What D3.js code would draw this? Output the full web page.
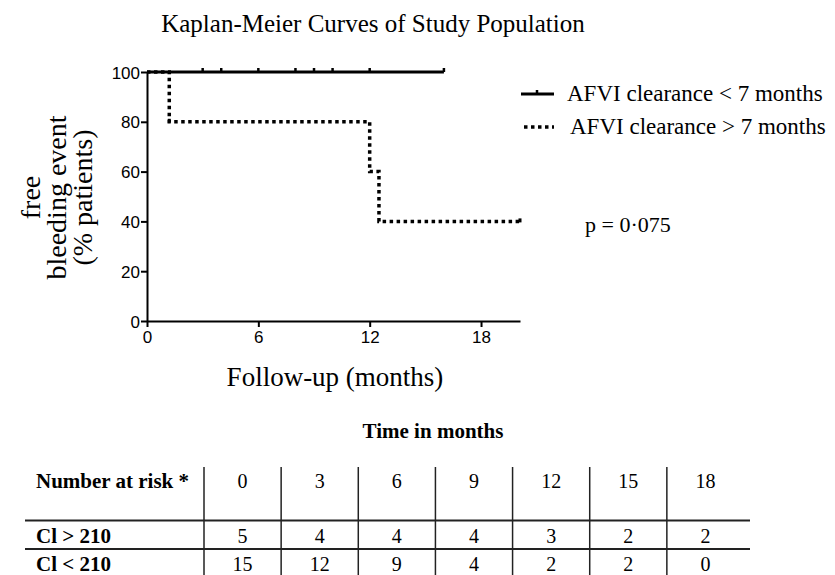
<!DOCTYPE html>
<html>
<head>
<meta charset="utf-8">
<script src="https://cdn.jsdelivr.net/npm/d3@7"></script>
<style>
  body { margin: 0; background: #fff; }
  .serif { font-family: "Liberation Serif", "Times New Roman", serif; }
</style>
</head>
<body>
<svg id="chart" width="835" height="575"></svg>
<script>
// curve data (months, % free of bleeding)
const xTicks = [0, 6, 12, 18];
const yTicks = [0, 20, 40, 60, 80, 100];
const groups = ['AFVI clearance < 7 months', 'AFVI clearance > 7 months'];
const fastTimes = [0, 16];
const fastSurv = [100, 100];
const fastCensor = [3, 4, 6, 8, 9, 10, 12, 16];
const slowTimes = [0, 1.2, 12, 12.5, 20.1];
const slowSurv = [100, 80, 60, 40, 40];
const slowCensor = [1.2, 20.1];
const pLabel = 'p = 0\u00b7075';

// number-at-risk table
const riskTimes = [0, 3, 6, 9, 12, 15, 18];
const riskRows = ['Cl > 210', 'Cl < 210'];
const riskHigh = [5, 4, 4, 4, 3, 2, 2];
const riskLow = [15, 12, 9, 4, 2, 2, 0];

const svg = d3.select('#chart');

const x = d3.scaleLinear().domain([0, 20.1]).range([147, 520]);
const y = d3.scaleLinear().domain([0, 100]).range([321, 72]);

// title
svg.append('text').attr('class', 'serif')
    .attr('x', 373).attr('y', 32)
    .attr('text-anchor', 'middle')
    .style('font-size', '25px')
    .text('Kaplan-Meier Curves of Study Population');

// axes
let xAxis = svg.append('g')
    .attr('transform', `translate(0,${y(0)})`)
    .call(d3.axisBottom(x).tickValues(xTicks).tickSize(6).tickPadding(4).tickSizeOuter(0));
let yAxis = svg.append('g')
    .attr('transform', `translate(${x(0)},0)`)
    .call(d3.axisLeft(y).tickValues(yTicks).tickSize(6).tickPadding(1).tickSizeOuter(0));
[xAxis, yAxis].forEach(function(a) {
  a.attr('font-family', '"Liberation Sans", Arial, sans-serif').attr('font-size', 17);
  a.select('.domain').attr('stroke', '#000').attr('stroke-width', 2);
  a.selectAll('.tick line').attr('stroke', '#000').attr('stroke-width', 2);
  a.selectAll('.tick text').attr('fill', '#000');
});
yAxis.selectAll('.tick text').attr('dy', '0.36em');

// axis labels
svg.append('text').attr('class', 'serif')
    .attr('x', 335).attr('y', 386)
    .attr('text-anchor', 'middle')
    .style('font-size', '27px')
    .text('Follow-up (months)');

let yLab = svg.append('text').attr('class', 'serif')
    .attr('transform', `translate(40,${(y(0) + y(100)) / 2 + 1}) rotate(-90)`)
    .attr('text-anchor', 'middle')
    .style('font-size', '28px');
['free', 'bleeding event', '(% patients)'].forEach(function(t, i) {
  yLab.append('tspan').attr('x', 0).attr('dy', i === 0 ? 0 : 26).text(t);
});

// curves
const line = d3.line()
    .x(d => x(d[0]))
    .y(d => y(d[1]))
    .curve(d3.curveStepAfter);

const fast = fastTimes.map((t, i) => [t, fastSurv[i]]);
const slow = slowTimes.map((t, i) => [t, slowSurv[i]]);

function survAt(times, surv, t) {
  let v = surv[0];
  times.forEach(function(tt, i) { if (tt <= t) v = surv[i]; });
  return v;
}

svg.append('path').datum(fast)
    .attr('d', line).attr('fill', 'none')
    .attr('stroke', '#000').attr('stroke-width', 3);
svg.append('path').datum(slow)
    .attr('d', line).attr('fill', 'none')
    .attr('stroke', '#000').attr('stroke-width', 3.5)
    .attr('stroke-dasharray', '3.5,3.5');

svg.selectAll('.cens-fast').data(fastCensor).join('line')
    .attr('x1', d => x(d)).attr('x2', d => x(d))
    .attr('y1', d => y(survAt(fastTimes, fastSurv, d)))
    .attr('y2', d => y(survAt(fastTimes, fastSurv, d)) - 4)
    .attr('stroke', '#000').attr('stroke-width', 2.5);
svg.selectAll('.cens-slow').data(slowCensor).join('line')
    .attr('x1', d => x(d)).attr('x2', d => x(d))
    .attr('y1', d => y(survAt(slowTimes, slowSurv, d)) + 1)
    .attr('y2', d => y(survAt(slowTimes, slowSurv, d)) - 3)
    .attr('stroke', '#000').attr('stroke-width', 3);

// legend
const legY = [94, 127];
groups.forEach(function(g, i) {
  let lg = svg.append('g');
  lg.append('line')
      .attr('x1', i === 0 ? 521 : 524).attr('x2', 554)
      .attr('y1', legY[i]).attr('y2', legY[i])
      .attr('stroke', '#000').attr('stroke-width', i === 0 ? 3 : 3.5)
      .attr('stroke-dasharray', i === 0 ? null : '3.5,3.5');
  if (i === 0) {
    lg.append('line').attr('x1', 537).attr('x2', 537)
        .attr('y1', legY[i]).attr('y2', legY[i] - 4)
        .attr('stroke', '#000').attr('stroke-width', 2.5);
  }
  lg.append('text').attr('class', 'serif')
      .attr('x', i === 0 ? 567 : 570).attr('y', legY[i] + 7)
      .style('font-size', '23px')
      .text(g);
});

svg.append('text').attr('class', 'serif')
    .attr('x', 585).attr('y', 232)
    .style('font-size', '22px')
    .text(pLabel);

// number at risk table
svg.append('text').attr('class', 'serif')
    .attr('x', 433).attr('y', 438)
    .attr('text-anchor', 'middle')
    .style('font-size', '21px').style('font-weight', 'bold')
    .text('Time in months');

const col = d3.scaleBand().domain(riskTimes).range([204, 744]);
const rowBase = [488, 543, 571];
const tbl = svg.append('g');

tbl.selectAll('.vline').data(riskTimes).join('line')
    .attr('x1', d => col(d)).attr('x2', d => col(d))
    .attr('y1', 467).attr('y2', 575)
    .attr('stroke', '#222').attr('stroke-width', 1.5);
tbl.selectAll('.hline').data([520.5, 549]).join('line')
    .attr('x1', 25).attr('x2', 750)
    .attr('y1', d => d).attr('y2', d => d)
    .attr('stroke', '#222').attr('stroke-width', 1.8);

const rowLabels = ['Number at risk *'].concat(riskRows);
tbl.selectAll('.rlab').data(rowLabels).join('text')
    .attr('class', 'serif')
    .attr('x', 36).attr('y', (d, i) => rowBase[i])
    .style('font-size', '21px').style('font-weight', 'bold')
    .text(d => d);

[riskTimes, riskHigh, riskLow].forEach(function(vals, r) {
  tbl.selectAll('.cell' + r).data(vals).join('text')
      .attr('class', 'serif')
      .attr('x', (d, i) => col(riskTimes[i]) + col.bandwidth() / 2)
      .attr('y', rowBase[r])
      .attr('text-anchor', 'middle')
      .style('font-size', '20px')
      .text(d => d);
});
</script>
</body>
</html>
